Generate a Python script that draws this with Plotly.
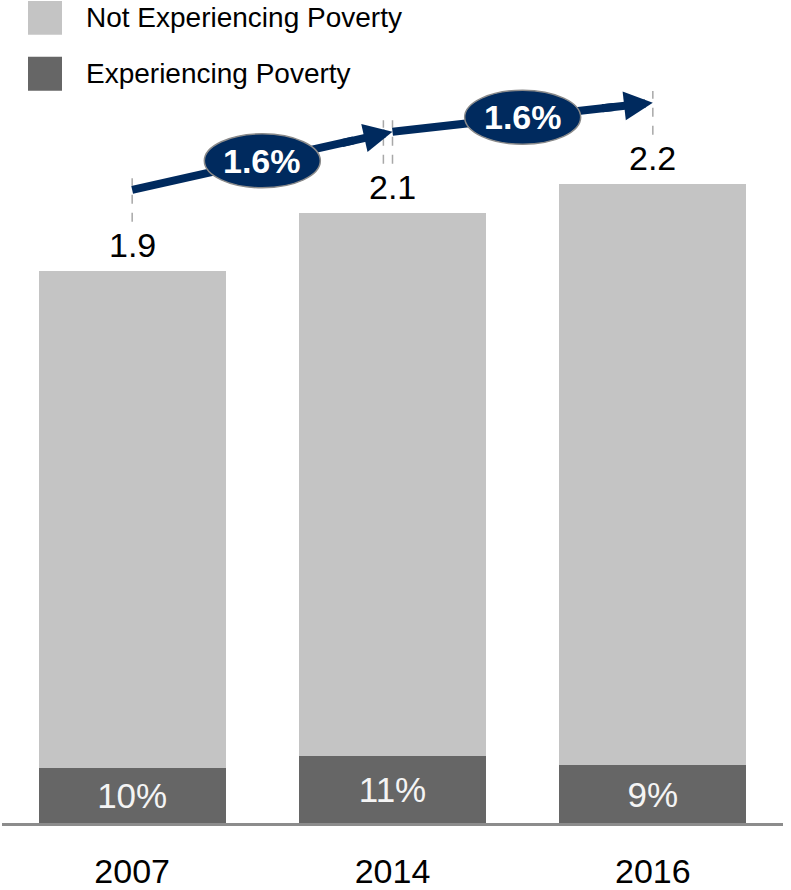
import plotly.graph_objects as go

# Data
years = ["2007", "2014", "2016"]
totals = [1.9, 2.1, 2.2]            # total population (millions)
poverty_share = [0.10, 0.11, 0.09]  # share experiencing poverty
growth_labels = ["1.6%", "1.6%"]    # annual growth between periods
series_names = ["Not Experiencing Poverty", "Experiencing Poverty"]

LIGHT = "#c4c4c4"
DARK = "#666666"
NAVY = "#002a5e"
FONT = "Liberation Sans, Arial, sans-serif"

xs = list(range(len(years)))
poor = [t * s for t, s in zip(totals, poverty_share)]
not_poor = [t - p for t, p in zip(totals, poor)]

fig = go.Figure()
fig.add_bar(
    x=xs, y=poor, name=series_names[1], marker_color=DARK,
    marker_line_width=0,
    text=[f"{round(s * 100)}%" for s in poverty_share],
    textposition="inside", insidetextanchor="middle", textangle=0,
    constraintext="none",
    textfont=dict(color="#f4f4f4", size=35, family=FONT),
    hoverinfo="skip",
)
fig.add_bar(
    x=xs, y=not_poor, name=series_names[0], marker_color=LIGHT,
    marker_line_width=0, hoverinfo="skip",
)

shapes = []
annotations = []

# total labels above each bar
for i, t in enumerate(totals):
    annotations.append(dict(
        x=i, y=t, xref="x", yref="y", text=f"{t:.1f}", showarrow=False,
        yanchor="middle", yshift=26, font=dict(size=34, color="black", family=FONT),
    ))

# growth arrows between bar tops
ARROW_OFF = 0.28
pts = [(i, t + ARROW_OFF) for i, t in enumerate(totals)]

# dashed leaders from label to arrow
for i, t in enumerate(totals):
    xpos = [i] if i in (0, len(totals) - 1) else [i - 0.035, i]
    for xp in xpos:
        shapes.append(dict(
            type="line", xref="x", yref="y", x0=xp, x1=xp,
            y0=t + 0.17, y1=t + ARROW_OFF + 0.04,
            line=dict(color="#a8a8a8", width=1.5, dash="dash"), layer="above",
        ))

for k in range(len(pts) - 1):
    (x0, y0), (x1, y1) = pts[k], pts[k + 1]
    fx, fy = x0 + 0.85 * (x1 - x0), y0 + 0.85 * (y1 - y0)
    shapes.append(dict(
        type="line", xref="x", yref="y", x0=x0, y0=y0, x1=fx, y1=fy,
        line=dict(color=NAVY, width=8), layer="above",
    ))
    hx, hy = x0 + 0.8 * (x1 - x0), y0 + 0.8 * (y1 - y0)
    annotations.append(dict(
        x=x1, y=y1, ax=hx, ay=hy, xref="x", yref="y", axref="x", ayref="y",
        text="", showarrow=True, arrowhead=2, arrowwidth=8, arrowsize=0.72,
        arrowcolor=NAVY, standoff=0,
    ))
    mx, my = (x0 + x1) / 2, (y0 + y1) / 2
    shapes.append(dict(
        type="circle", xref="x", yref="y", xsizemode="pixel", ysizemode="pixel",
        xanchor=mx, yanchor=my, x0=-58, x1=58, y0=-27, y1=27,
        fillcolor=NAVY, line=dict(color="#8a8a8a", width=1.5), layer="above",
    ))
    annotations.append(dict(
        x=mx, y=my, xref="x", yref="y", text=f"<b>{growth_labels[k]}</b>",
        showarrow=False, font=dict(size=34, color="white", family=FONT),
    ))

# legend drawn as swatches + text
W, H = 791, 890
ML, MR, MT, MB = 2, 8, 0, 64
PW, PH = W - ML - MR, H - MT - MB


def px_x(px):
    return (px - ML) / PW


def px_y(py):
    return (PH - (py - MT)) / PH


for j, (name, col) in enumerate([(series_names[0], LIGHT), (series_names[1], DARK)]):
    top = 1 + j * 56
    shapes.append(dict(
        type="rect", xref="paper", yref="paper",
        x0=px_x(28), x1=px_x(62), y0=px_y(top + 34), y1=px_y(top),
        fillcolor=col, line=dict(width=0),
    ))
    annotations.append(dict(
        x=px_x(84), y=px_y(top + 17), xref="paper", yref="paper", text=name,
        showarrow=False, xanchor="left", yanchor="middle",
        font=dict(size=28, color="black", family=FONT),
    ))

fig.update_layout(
    barmode="stack", bargap=0.282,
    width=W, height=H, margin=dict(l=ML, r=MR, t=MT, b=MB),
    plot_bgcolor="white", paper_bgcolor="white", showlegend=False,
    shapes=shapes, annotations=annotations,
    font=dict(family=FONT, color="black"),
)
fig.update_xaxes(
    range=[-0.5, 2.5], tickvals=xs, ticktext=years,
    showline=True, linecolor="#8c8c8c", linewidth=2.5, showgrid=False,
    zeroline=False, ticks="outside", ticklen=16, tickcolor="rgba(0,0,0,0)",
    tickfont=dict(size=34, color="black", family=FONT),
)
fig.update_yaxes(range=[0, 826 / 291.5], visible=False, showgrid=False)

fig.write_html("out.html")
